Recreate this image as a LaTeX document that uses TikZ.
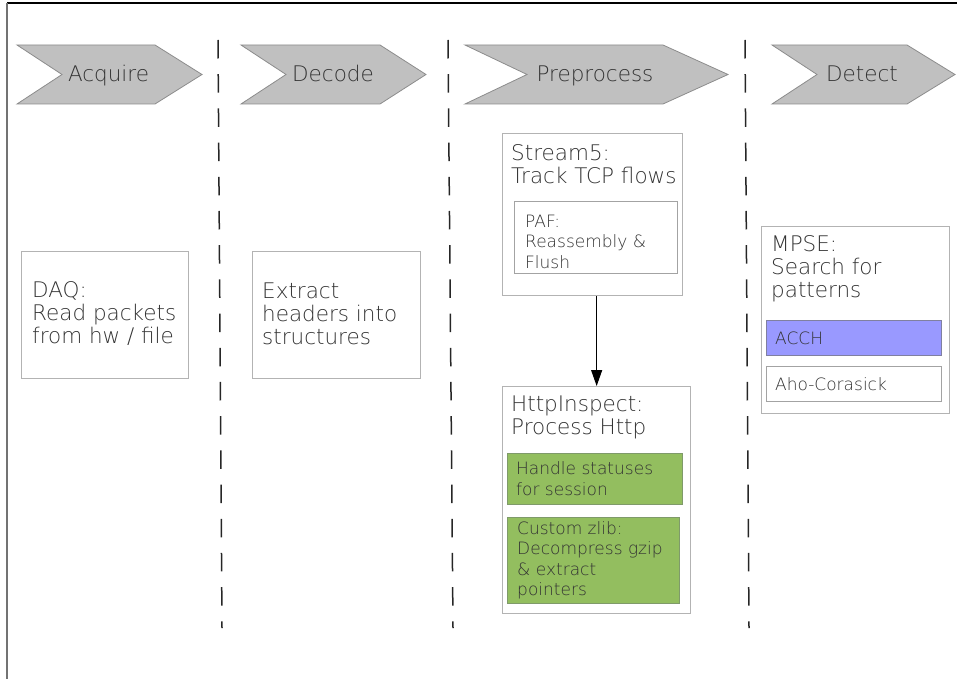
\documentclass[tikz,border=0pt]{standalone}
\usepackage{fontspec}
\setmainfont{DejaVu Sans ExtraLight}
\usetikzlibrary{arrows.meta}
\definecolor{figink}{HTML}{333333}
\definecolor{figsilver}{HTML}{C0C0C0}
\definecolor{figgrey}{HTML}{8C8C8C}
\definecolor{figbox}{HTML}{B3B3B3}
\definecolor{figgreen}{HTML}{93BE5F}
\definecolor{figgreenedge}{HTML}{7F9A6A}
\definecolor{figblue}{HTML}{9999FF}
\definecolor{figblueedge}{HTML}{8080A0}

\begin{document}
\begin{tikzpicture}[x=1pt,y=-1pt,
  every node/.style={inner sep=0pt, text=figink},
  chevron/.style={fill=figsilver, draw=figgrey, line width=0.8pt},
  stagebox/.style={draw=figbox, line width=1.3pt, fill=white, anchor=north west, inner sep=0pt},
  greenbox/.style={stagebox, fill=figgreen, draw=figgreenedge},
  bluebox/.style={stagebox, fill=figblue, draw=figblueedge},
  bigtext/.style={anchor=west, align=left, font=\fontsize{21.5}{23}\selectfont},
  smalltext/.style={anchor=west, align=left, font=\fontsize{17}{20.5}\selectfont},
  divider/.style={black!85, line width=1.5pt, dash pattern=on 18.5pt off 15.7pt}]
\useasboundingbox (0,0) rectangle (957,679);
% frame
\draw[black, line width=1.2pt] (7,3) -- (957,3);
\draw[black!55, line width=2pt] (7,3) -- (7,679);

% stage chevrons
\foreach \l/\n/\s/\t/\name/\label in {17/62/155/202/acquire/Acquire,241/286/380/426/decode/Decode,465/527/663/728/preprocess/Preprocess,772/817/907/955/detect/Detect} {
  \draw[chevron] (\l,45) -- (\s,45) -- (\t,74.5) -- (\s,104) -- (\l,104) -- (\n,74.5) -- cycle;
  \node[anchor=base, font=\fontsize{21.5}{23}\selectfont] (\name) at ({(\n+\s)/2},81.5) {\label};
}

% stage dividers
\foreach \xa/\xb in {218/222,448/453,745/749}
  \draw[divider] (\xa,40) -- (\xb,628);

% acquire
\node[stagebox, minimum width=167pt, minimum height=127pt] (daq) at (21,251) {};
\node[bigtext] (daqtext) at (32,313.5) {DAQ:\\Read packets\\from hw / file};

% decode
\node[stagebox, minimum width=168pt, minimum height=127pt] (extract) at (252,251) {};
\node[bigtext] (extracttext) at (262,313.5) {Extract\\headers into\\structures};

% preprocess
\node[stagebox, minimum width=180pt, minimum height=162pt] (stream) at (502,133) {};
\node[bigtext] (streamtext) at (511,164.5) {Stream5:\\Track TCP flows};
\node[stagebox, line width=1pt, draw=figgrey!80, minimum width=163pt, minimum height=72pt] (paf) at (514,201) {};
\node[smalltext] (paftext) at (525,241.5) {PAF:\\Reassembly \&\\Flush};

\node[stagebox, minimum width=188pt, minimum height=227pt] (http) at (502,386) {};
\node[bigtext] (httptext) at (511,417) {HttpInspect:\\Process Http};
\node[greenbox, minimum width=175pt, minimum height=51pt] (status) at (507,453) {};
\node[smalltext] (statustext) at (516,478.5) {Handle statuses\\for session};
\node[greenbox, minimum width=172pt, minimum height=86pt] (zlib) at (507,517) {};
\node[smalltext] (zlibtext) at (517,560.5) {Custom zlib:\\Decompress gzip\\\& extract\\pointers};

\draw[-{Triangle[length=16pt,width=11pt]}, line width=1pt] (http.north |- stream.south) -- (http.north);

% detect
\node[stagebox, minimum width=188pt, minimum height=187pt] (mpse) at (761,226) {};
\node[bigtext] (mpsetext) at (771,268.5) {MPSE:\\Search for\\patterns};
\node[bluebox, minimum width=175pt, minimum height=35pt] (acch) at (766,320) {};
\node[smalltext] (acchtext) at (775,338) {ACCH};
\node[stagebox, line width=1pt, draw=figgrey!80, minimum width=175pt, minimum height=35pt] (aho) at (766,366) {};
\node[smalltext] (ahotext) at (775,384) {Aho-Corasick};
\end{tikzpicture}
\end{document}
